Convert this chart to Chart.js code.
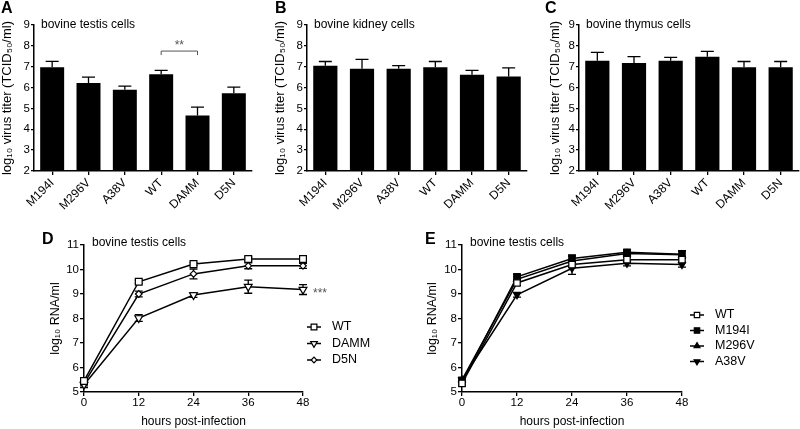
<!DOCTYPE html>
<html lang="en">
<head>
<meta charset="UTF-8">
<title>Virus replication in bovine cells</title>
<script src="https://cdn.jsdelivr.net/npm/chart.js"></script>
<style>
    body { margin: 0; background: white; font-family: "Liberation Sans", Arial, sans-serif; }
    #wrap { position: relative; width: 800px; height: 429px; overflow: hidden; }
    .panel { position: absolute; }
    .letter { position: absolute; font-weight: bold; font-size: 16px; line-height: 16px; color: #000; }
</style>
</head>
<body>
<div id="wrap">
    <div class="panel" style="left:0;top:0;width:265px;height:215px"><canvas id="chartA"></canvas></div>
    <div class="panel" style="left:265px;top:0;width:270px;height:215px"><canvas id="chartB"></canvas></div>
    <div class="panel" style="left:530px;top:0;width:270px;height:215px"><canvas id="chartC"></canvas></div>
    <div class="panel" style="left:0;top:220px;width:400px;height:209px"><canvas id="chartD"></canvas></div>
    <div class="panel" style="left:400px;top:220px;width:400px;height:209px"><canvas id="chartE"></canvas></div>
    <div class="letter" style="left:1px;top:0">A</div>
    <div class="letter" style="left:275px;top:0">B</div>
    <div class="letter" style="left:545px;top:0">C</div>
    <div class="letter" style="left:42px;top:231px">D</div>
    <div class="letter" style="left:425px;top:231px">E</div>
</div>

<script>
    // virus titers (log10 TCID50/ml), mean and SEM
    const barLabels = ['M194I', 'M296V', 'A38V', 'WT', 'DAMM', 'D5N'];
    const testisTiter = [6.97, 6.22, 5.90, 6.64, 4.66, 5.73];
    const testisSem   = [0.29, 0.28, 0.17, 0.18, 0.40, 0.29];
    const kidneyTiter = [7.05, 6.90, 6.90, 6.97, 6.62, 6.53];
    const kidneySem   = [0.20, 0.45, 0.15, 0.28, 0.20, 0.41];
    const thymusTiter = [7.29, 7.18, 7.29, 7.48, 6.97, 6.97];
    const thymusSem   = [0.40, 0.30, 0.16, 0.26, 0.28, 0.28];

    // RNA growth curves (log10 RNA/ml)
    const hours = [0, 12, 24, 36, 48];
    const dWT      = [5.45, 9.50, 10.22, 10.43, 10.43];
    const dWTSem   = [0.08, 0.07, 0.06, 0.08, 0.07];
    const dDAMM    = [5.30, 8.02, 8.96, 9.30, 9.18];
    const dDAMMSem = [0.12, 0.14, 0.10, 0.27, 0.20];
    const dD5N     = [5.35, 9.00, 9.82, 10.15, 10.15];
    const dD5NSem  = [0.10, 0.12, 0.20, 0.12, 0.10];

    const eWT       = [5.35, 9.45, 10.20, 10.40, 10.40];
    const eWTSem    = [0.10, 0.10, 0.10, 0.10, 0.10];
    const eM194I    = [5.40, 9.70, 10.45, 10.70, 10.62];
    const eM194ISem = [0.15, 0.10, 0.10, 0.10, 0.15];
    const eM296V    = [5.50, 9.60, 10.35, 10.65, 10.60];
    const eM296VSem = [0.10, 0.10, 0.25, 0.10, 0.15];
    const eA38V     = [5.50, 8.97, 10.05, 10.25, 10.20];
    const eA38VSem  = [0.10, 0.10, 0.25, 0.10, 0.10];

    const FONT = '"Liberation Sans", Arial, sans-serif';
    Chart.defaults.font.family = FONT;
    Chart.defaults.color = '#000';

    // error bars (bars: upper only, lines: both ways)
    const errorBars = {
        id: 'errorBars',
        beforeDatasetsDraw(chart, args, opts) {
            const ctx = chart.ctx, ys = chart.scales.y;
            chart.data.datasets.forEach((ds, i) => {
                if (!ds.errors) return;
                const meta = chart.getDatasetMeta(i);
                ctx.save();
                ctx.strokeStyle = '#000';
                ctx.lineWidth = 1.3;
                meta.data.forEach((el, j) => {
                    const d = ds.data[j];
                    const v = typeof d === 'number' ? d : d.y;
                    const e = ds.errors[j];
                    const top = ys.getPixelForValue(v + e);
                    const bot = opts.upOnly ? el.y : ys.getPixelForValue(v - e);
                    const hw = opts.cap / 2;
                    ctx.beginPath();
                    ctx.moveTo(el.x, bot); ctx.lineTo(el.x, top);
                    ctx.moveTo(el.x - hw, top); ctx.lineTo(el.x + hw, top);
                    if (!opts.upOnly) { ctx.moveTo(el.x - hw, bot); ctx.lineTo(el.x + hw, bot); }
                    ctx.stroke();
                });
                ctx.restore();
            });
        }
    };

    // cell type label inside the plot
    const panelNote = {
        id: 'panelNote',
        afterDraw(chart, args, opts) {
            if (!opts.text) return;
            const ctx = chart.ctx, a = chart.chartArea;
            ctx.save();
            ctx.font = '12px ' + FONT;
            ctx.fillStyle = '#000';
            ctx.textBaseline = 'alphabetic';
            ctx.fillText(opts.text, a.left + opts.dx, a.top + opts.dy);
            ctx.restore();
        }
    };

    // significance marks
    const sigMark = {
        id: 'sigMark',
        afterDraw(chart, args, opts) {
            if (!opts.label) return;
            const ctx = chart.ctx, xs = chart.scales.x, ys = chart.scales.y;
            ctx.save();
            ctx.font = '12px ' + FONT;
            ctx.fillStyle = '#555';
            ctx.strokeStyle = '#555';
            ctx.lineWidth = 1;
            if (opts.from) {
                const x1 = xs.getPixelForValue(barLabels.indexOf(opts.from));
                const x2 = xs.getPixelForValue(barLabels.indexOf(opts.to));
                const y = ys.getPixelForValue(opts.at);
                ctx.beginPath();
                ctx.moveTo(x1, y + 4); ctx.lineTo(x1, y); ctx.lineTo(x2, y); ctx.lineTo(x2, y + 4);
                ctx.stroke();
                ctx.textAlign = 'center';
                ctx.fillText(opts.label, (x1 + x2) / 2, y - 2);
            } else {
                const ds = chart.data.datasets.find(d => d.label === opts.dataset);
                const last = ds.data[ds.data.length - 1];
                ctx.textAlign = 'left';
                ctx.textBaseline = 'middle';
                ctx.fillText(opts.label, xs.getPixelForValue(last.x) + opts.dx, ys.getPixelForValue(last.y) + 4);
            }
            ctx.restore();
        }
    };

    // legend with line through the marker
    const lineLegend = {
        id: 'lineLegend',
        afterDraw(chart, args, opts) {
            if (opts.x === undefined) return;
            const ctx = chart.ctx;
            ctx.save();
            ctx.font = '12.5px ' + FONT;
            ctx.textBaseline = 'middle';
            chart.data.datasets.forEach((ds, i) => {
                const y = opts.y + i * opts.step;
                ctx.strokeStyle = '#000';
                ctx.lineWidth = 1.5;
                ctx.beginPath();
                ctx.moveTo(opts.x, y); ctx.lineTo(opts.x + 14, y);
                ctx.stroke();
                ctx.fillStyle = ds.pointBackgroundColor;
                ctx.lineWidth = ds.pointBorderWidth;
                Chart.helpers.drawPoint(ctx, {
                    pointStyle: ds.pointStyle, radius: ds.pointRadius * 0.85,
                    rotation: ds.pointRotation || 0, borderWidth: ds.pointBorderWidth
                }, opts.x + 7, y);
                ctx.fillStyle = '#000';
                ctx.fillText(ds.label, opts.x + 25, y);
            });
            ctx.restore();
        }
    };

    function axisLines(tick) {
        return {
            grid: { drawOnChartArea: false, tickLength: tick, color: '#000', lineWidth: 1.3 },
            border: { color: '#000', width: 1.5 }
        };
    }

    function barPanel(id, values, sem, note, padding, yWidth, sig) {
        return new Chart(document.getElementById(id), {
            type: 'bar',
            data: {
                labels: barLabels,
                datasets: [{
                    data: values, errors: sem,
                    backgroundColor: '#000',
                    barPercentage: 0.66, categoryPercentage: 1
                }]
            },
            options: {
                animation: false,
                responsive: true,
                maintainAspectRatio: false,
                layout: { padding: padding },
                plugins: {
                    legend: { display: false },
                    tooltip: { enabled: false },
                    errorBars: { cap: 13, upOnly: true },
                    panelNote: { text: note, dx: 7, dy: 3 },
                    sigMark: sig || {}
                },
                scales: {
                    x: {
                        ...axisLines(4),
                        grid: { offset: false, drawOnChartArea: false, tickLength: 4, color: '#000', lineWidth: 1.3 },
                        ticks: { autoSkip: false, minRotation: 45, maxRotation: 45, padding: 1, font: { size: 12 } },
                        afterFit: s => { s.height = 44; }
                    },
                    y: {
                        ...axisLines(3),
                        min: 2, max: 9,
                        ticks: { stepSize: 1, padding: 1, font: { size: 11.5 } },
                        title: { display: true, text: 'log\u2081\u2080 virus titer (TCID\u2085\u2080/ml)', padding: 0, font: { size: 13 } },
                        afterFit: s => { s.width = yWidth; }
                    }
                }
            },
            plugins: [errorBars, panelNote, sigMark]
        });
    }

    function curve(label, values, sem, style, filled, radius, rotation) {
        return {
            label: label,
            data: hours.map((h, i) => ({ x: h, y: values[i] })),
            errors: sem,
            borderColor: '#000', borderWidth: 1.5, fill: false, tension: 0, clip: false,
            pointStyle: style, pointRadius: radius, pointRotation: rotation || 0,
            pointBackgroundColor: filled ? '#000' : '#fff',
            pointBorderColor: '#000', pointBorderWidth: 1.2
        };
    }

    function linePanel(id, datasets, padding, yWidth, legend, sig) {
        return new Chart(document.getElementById(id), {
            type: 'line',
            data: { datasets: datasets },
            options: {
                animation: false,
                responsive: true,
                maintainAspectRatio: false,
                layout: { padding: padding },
                plugins: {
                    legend: { display: false },
                    tooltip: { enabled: false },
                    errorBars: { cap: 8, upOnly: false },
                    panelNote: { text: 'bovine testis cells', dx: 8, dy: 1 },
                    lineLegend: legend,
                    sigMark: sig || {}
                },
                scales: {
                    x: {
                        ...axisLines(4),
                        type: 'linear', min: 0, max: 48,
                        ticks: { stepSize: 12, padding: 0, font: { size: 11.5 } },
                        title: { display: true, text: 'hours post-infection', padding: 0, font: { size: 12 } },
                        afterFit: s => { s.height = 37; }
                    },
                    y: {
                        ...axisLines(4),
                        min: 5, max: 11,
                        ticks: { stepSize: 1, padding: 1, font: { size: 11.5 } },
                        title: { display: true, text: 'log\u2081\u2080 RNA/ml', padding: 0, font: { size: 12.5 } },
                        afterFit: s => { s.width = yWidth; }
                    }
                }
            },
            plugins: [errorBars, panelNote, lineLegend, sigMark]
        });
    }

    barPanel('chartA', testisTiter, testisSem, 'bovine testis cells',
        { left: 0, right: 13, top: 25, bottom: 0 }, 34,
        { from: 'WT', to: 'DAMM', at: 7.75, label: '**' });
    barPanel('chartB', kidneyTiter, kidneySem, 'bovine kidney cells',
        { left: 8, right: 8, top: 25, bottom: 0 }, 34);
    barPanel('chartC', thymusTiter, thymusSem, 'bovine thymus cells',
        { left: 18, right: 1, top: 25, bottom: 0 }, 31);

    linePanel('chartD', [
        curve('WT', dWT, dWTSem, 'rect', false, 4.8),
        curve('DAMM', dDAMM, dDAMMSem, 'triangle', false, 4.5, 180),
        curve('D5N', dD5N, dD5NSem, 'rectRot', false, 3.3)
    ], { left: 48, right: 97, top: 25, bottom: 0 }, 36,
        { x: 307, y: 107, step: 16.5 },
        { dataset: 'DAMM', label: '***', dx: 10 });

    linePanel('chartE', [
        curve('WT', eWT, eWTSem, 'rect', false, 4.5),
        curve('M194I', eM194I, eM194ISem, 'rect', true, 4.5),
        curve('M296V', eM296V, eM296VSem, 'triangle', true, 4),
        curve('A38V', eA38V, eA38VSem, 'triangle', true, 4, 180)
    ], { left: 25, right: 118, top: 25, bottom: 0 }, 37,
        { x: 290, y: 95, step: 15.5 });
</script>
</body>
</html>
